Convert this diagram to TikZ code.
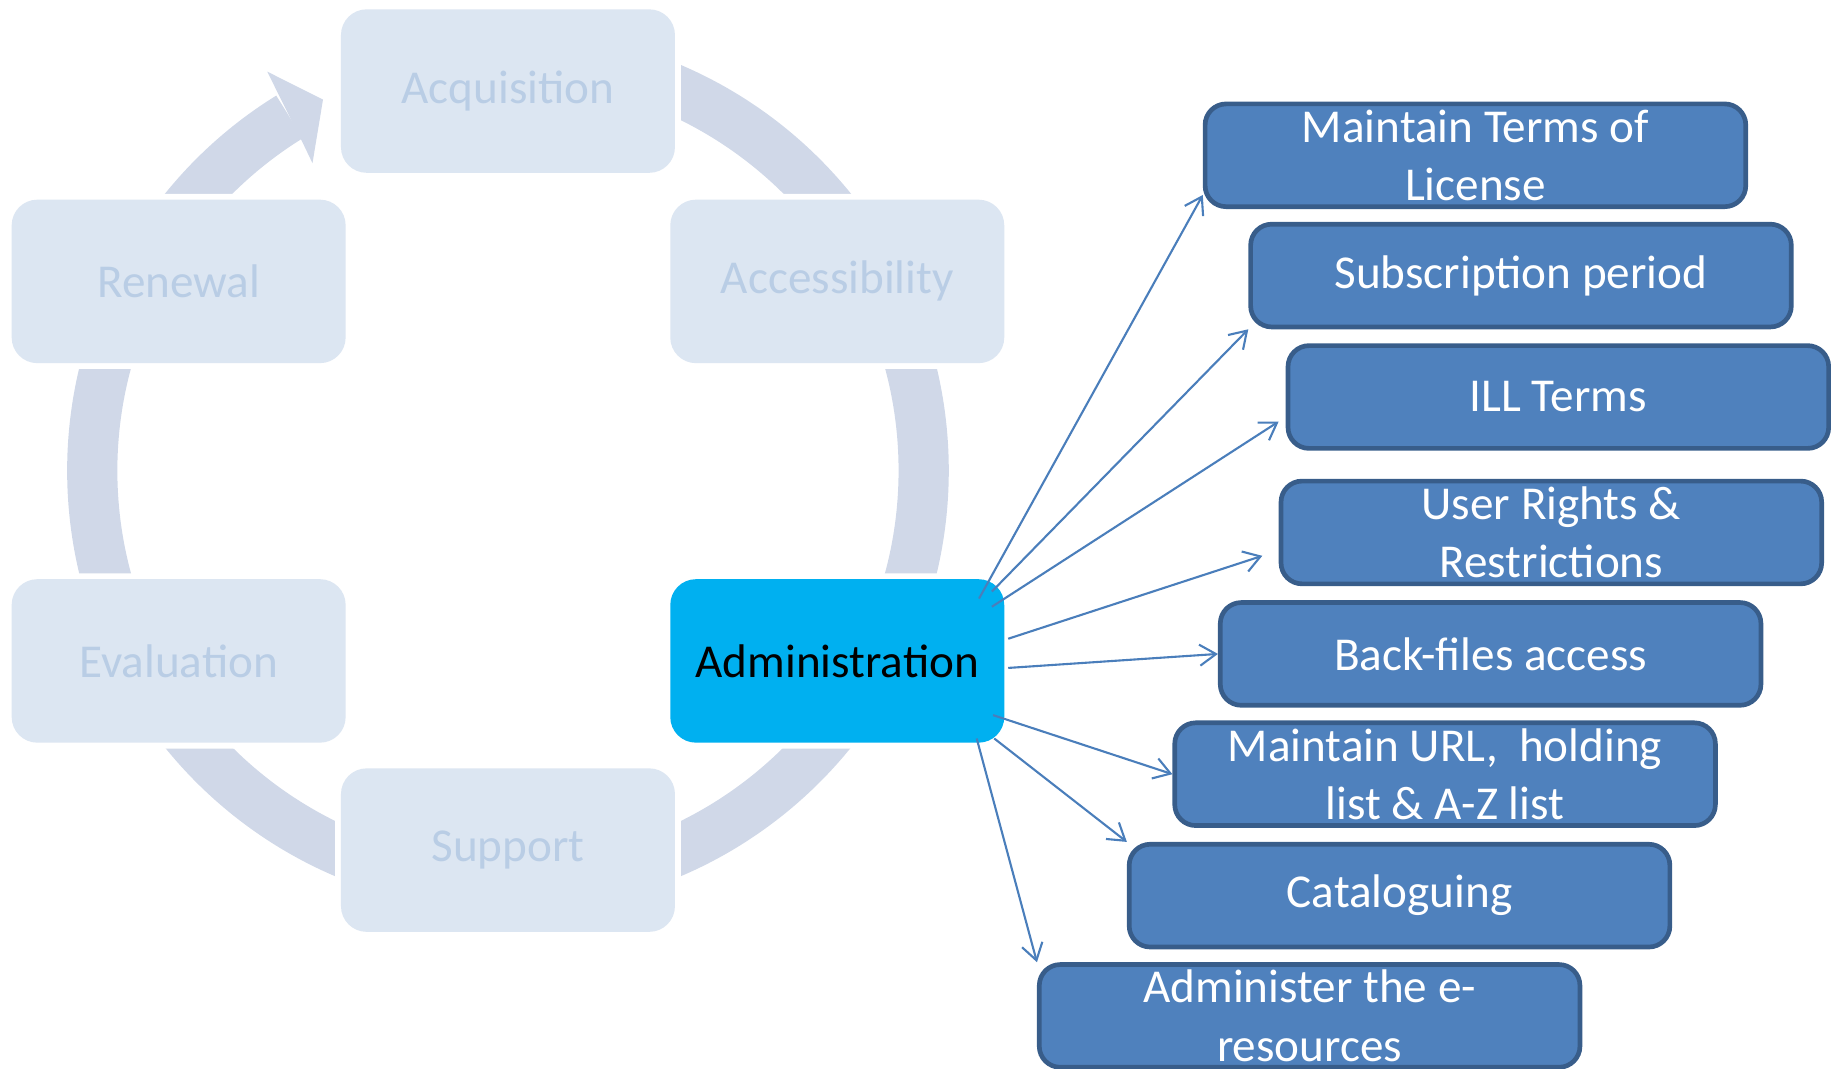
\documentclass[tikz,border=0pt]{standalone}
\usepackage{fontspec}
\setmainfont{Carlito}
\usetikzlibrary{arrows.meta,calc}
\definecolor{ghostfill}{HTML}{DCE6F2}
\definecolor{ghosttext}{HTML}{B9CDE5}
\definecolor{ringgrey}{HTML}{D0D8E8}
\definecolor{admincyan}{HTML}{00B0F0}
\definecolor{taskfill}{HTML}{4F81BD}
\definecolor{taskline}{HTML}{385D8A}
\definecolor{arrowblue}{HTML}{4A7EBB}
\begin{document}
\begin{tikzpicture}[x=0.5pt,y=0.5pt,
           ghost_style/.style={rounded corners=11pt,fill=ghostfill,text=ghosttext,minimum width=143pt,minimum height=70pt,
             inner sep=0pt,preaction={draw=white,line width=5pt},font=\fontsize{20.2}{25}\selectfont},
           admin_style/.style={ghost_style,fill=admincyan,text=black},
           task_style/.style={rounded corners=9pt,draw=taskline,line width=2pt,fill=taskfill,text=white,minimum width=231.5pt,
             minimum height=44pt,inner sep=0pt,align=center,font=\fontsize{20.2}{25}\selectfont},
           ring_style/.style={draw=ringgrey,line width=21.5pt},
           edge_style/.style={draw=arrowblue,line width=0.9pt,-{Straight Barb[length=7pt,width=9pt]}}]
            \useasboundingbox (0,0) rectangle (1568,915);
            % the cycle
            \coordinate (ring) at (435,512);
            \draw[ring_style] ($(ring)+(90:356)$) arc[start angle=90,end angle=-238.3,radius=356];
            \fill[ringgrey,shift={(ring)}] (121.4:376) -- (121.1:399) -- (116.5:355) -- (122.45:312) -- (122.0:334) -- cycle;
            \node[ghost_style] (acq)   at (435,837) {Acquisition};
            \node[ghost_style] (acc)   at (717,674) {Accessibility};
            \node[admin_style] (admin) at (717,349) {Administration};
            \node[ghost_style] (sup)   at (435,187) {Support};
            \node[ghost_style] (eval)  at (153,349) {Evaluation};
            \node[ghost_style] (ren)   at (153,674) {Renewal};
            % tasks of administration
            \node[task_style] (t1) at (1263.5,782) {Maintain Terms of\\License};
            \node[task_style] (t2) at (1302.5,679) {Subscription period};
            \node[task_style] (t3) at (1334.5,575) {ILL Terms};
            \node[task_style] (t4) at (1328.5,459) {User Rights \&\\Restrictions};
            \node[task_style] (t5) at (1276.5,355) {Back-files access};
            \node[task_style] (t6) at (1237.5,252) {Maintain URL,\ \ holding\\list \& A-Z list};
            \node[task_style] (t7) at (1198.5,148) {Cataloguing};
            \node[task_style] (t8) at (1121.5,45)  {Administer the e-\\resources};
            \draw[edge_style] ($(admin.north east)+(-22,-17)$) -- ($(t1.south west)+(0,12)$);
            \draw[edge_style] ($(admin.north east)+(-11,-11)$) -- (t2.south west);
            \draw[edge_style] ($(admin.north east)+(-11,-24)$) -- ($(t3.west)+(-6,-21)$);
            \draw[edge_style] ($(admin.east)+(3,19)$) -- ($(t4.west)+(-14,-20)$);
            \draw[edge_style] ($(admin.east)+(3,-6)$) -- (t5.west);
            \draw[edge_style] ($(admin.south east)+(-10,24)$) -- (t6.west);
            \draw[edge_style] ($(admin.south east)+(-9,4)$) -- (t7.north west);
            \draw[edge_style] ($(admin.south east)+(-24,4)$) -- (t8.north west);
        \end{tikzpicture}
\end{document}
